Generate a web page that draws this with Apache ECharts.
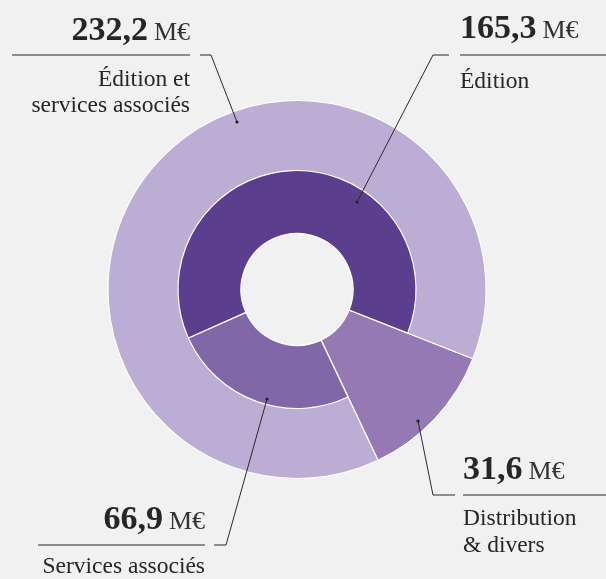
<!DOCTYPE html>
<html><head><meta charset="utf-8">
<script src="https://cdn.jsdelivr.net/npm/echarts@6/dist/echarts.min.js"></script>
<style>html,body{margin:0;padding:0;background:#f1f1f1}#c{width:606px;height:579px}</style>
</head><body><div id="c"></div>
<script>
// ---- data ----
const outerNames = ['Édition et\nservices associés', 'Distribution\n& divers'];
const outerValues = [232.2, 31.6];
const innerNames = ['Édition', 'Services associés'];
const innerValues = [165.3, 66.9];
const unit = 'M€';

// ---- style / layout ----
const COL = {outer:'#bbadd3', dist:'#9479b3', edition:'#5c3e8e', services:'#8068a8'};
const CX = 297, CY = 289.5, R0 = 56, R1 = 119, R2 = 189, START = -21.5;
const FONT = '"Liberation Serif", "Times New Roman", serif';
const NUM_SIZE = 34, UNIT_SIZE = 26, DESC_SIZE = 23.5;

function fmt(v){ return v.toFixed(1).replace('.', ','); }
const ctx = document.createElement('canvas').getContext('2d');
function tw(text, size, weight){ ctx.font = (weight||'normal') + ' ' + size + 'px ' + FONT; return ctx.measureText(text).width; }

const labelDefs = [
  {name: outerNames[0], value: outerValues[0], align:'right', x:190, base:41, hr:[12,190,55], lines:[87,113],
   leader:[[200,55],[211,55],[237,122]]},
  {name: innerNames[0], value: innerValues[0], align:'left', x:460, base:39, hr:[460,606,55], lines:[89],
   leader:[[449,55],[433,55],[357,202]]},
  {name: outerNames[1], value: outerValues[1], align:'left', x:463, base:480, hr:[463,606,495], lines:[526,553],
   leader:[[455,495],[433,495],[418,421]]},
  {name: innerNames[1], value: innerValues[1], align:'right', x:205, base:530, hr:[38,205,545], lines:[574],
   leader:[[214,545],[226,545],[267,399]]}
];

const graphics = [];
function txt(x, base, text, size, weight, align, fill){
  graphics.push({type:'text', z:100, x:x, y: base - 0.3*size,
    style:{text:text, fontSize:size, fontWeight:weight||'normal', fontFamily:FONT, fill:fill||'#262626', align:align, verticalAlign:'middle'}});
}
labelDefs.forEach(function(d){
  const num = fmt(d.value);
  const wN = tw(num, NUM_SIZE, 'bold'), wU = tw(unit, UNIT_SIZE);
  if (d.align === 'right') {
    txt(d.x, d.base, unit, UNIT_SIZE, 'normal', 'right', '#333');
    txt(d.x - wU - 6, d.base, num, NUM_SIZE, 'bold', 'right');
  } else {
    txt(d.x, d.base, num, NUM_SIZE, 'bold', 'left');
    txt(d.x + wN + 6, d.base, unit, UNIT_SIZE, 'normal', 'left', '#333');
  }
  graphics.push({type:'line', z:100, shape:{x1:d.hr[0], y1:d.hr[2], x2:d.hr[1], y2:d.hr[2]}, style:{stroke:'#6a6a6a', lineWidth:1.5}});
  d.name.split('\n').forEach(function(line, i){ txt(d.x, d.lines[i], line, DESC_SIZE, 'normal', d.align); });
  graphics.push({type:'polyline', z:100, shape:{points:d.leader}, style:{stroke:'#2a2a2a', lineWidth:1, fill:null}});
  const p = d.leader[d.leader.length-1];
  graphics.push({type:'circle', z:100, shape:{cx:p[0], cy:p[1], r:1.6}, style:{fill:'#222'}});
});

const chart = echarts.init(document.getElementById('c'), null, {renderer:'canvas'});
chart.setOption({
  backgroundColor:'#f1f1f1',
  animation:false,
  series:[
    {type:'pie', center:[CX,CY], radius:[R0,R2], startAngle:START, clockwise:true, silent:true,
     avoidLabelOverlap:false, label:{show:false}, labelLine:{show:false},
     itemStyle:{borderColor:'#ffffff', borderWidth:1.2},
     data:[
       {name:outerNames[1], value:outerValues[1], itemStyle:{color:COL.dist}},
       {name:outerNames[0], value:outerValues[0], itemStyle:{color:COL.outer}}
     ]},
    {type:'pie', center:[CX,CY], radius:[R0,R1], startAngle:START, clockwise:true, silent:true,
     avoidLabelOverlap:false, label:{show:false}, labelLine:{show:false},
     itemStyle:{borderColor:'#ffffff', borderWidth:1.2},
     data:[
       {name:'_gap', value:outerValues[1], itemStyle:{color:'rgba(0,0,0,0)', borderWidth:0}},
       {name:innerNames[1], value:innerValues[1], itemStyle:{color:COL.services}},
       {name:innerNames[0], value:innerValues[0], itemStyle:{color:COL.edition}}
     ]}
  ],
  graphic: graphics
});
</script>
</body></html>
